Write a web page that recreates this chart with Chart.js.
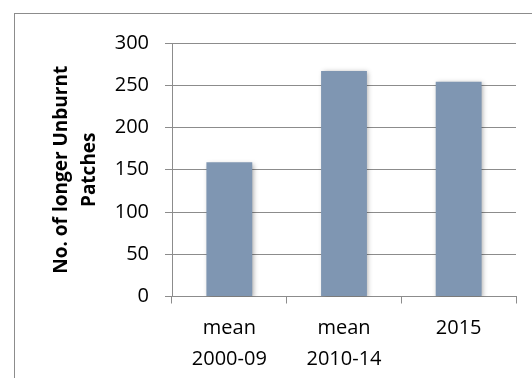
<!DOCTYPE html>
<html><head><meta charset="utf-8">
<script src="https://cdn.jsdelivr.net/npm/chart.js@4/dist/chart.umd.min.js"></script>
<style>html,body{margin:0;padding:0;background:#fff}#w{width:532px;height:378px}</style>
</head><body><div id="w"><canvas id="c" width="532" height="378"></canvas></div>
<script>
const categories = [['mean','2000-09'],['mean','2010-14'],['2015']];
const values = [159, 267, 254];
const yTicks = [0, 50, 100, 150, 200, 250, 300];
const yTitle = ['No. of longer Unburnt','Patches'];

const borderPlugin = {
  id: 'outerBorder',
  beforeDraw(chart) {
    const ctx = chart.ctx;
    ctx.save();
    ctx.strokeStyle = '#8c8c8c';
    ctx.lineWidth = 1;
    ctx.strokeRect(14.5, 13.5, 700, 700);
    ctx.restore();
  }
};
const shadowPlugin = {
  id: 'barShadow',
  beforeDatasetDraw(chart) {
    const ctx = chart.ctx;
    ctx.save();
    ctx.shadowColor = 'rgba(0,0,0,0.35)';
    ctx.shadowBlur = 5;
    ctx.shadowOffsetX = 1.5;
    ctx.shadowOffsetY = 1.5;
  },
  afterDatasetDraw(chart) { chart.ctx.restore(); }
};

new Chart(document.getElementById('c'), {
  type: 'bar',
  data: { labels: categories, datasets: [{ data: values, backgroundColor: '#7f96b2', categoryPercentage: 1, barPercentage: 0.4 }] },
  options: {
    responsive: false, animation: false,
    layout: { padding: { top: 43, right: 16, left: 0, bottom: 0 } },
    plugins: { legend: { display: false }, tooltip: { enabled: false } },
    scales: {
      x: {
        afterFit(s) { s.height = 81.5; },
        grid: { drawOnChartArea: false, color: '#8c8c8c', tickLength: 7, offset: true },
        border: { color: '#8c8c8c' },
        ticks: { color: '#000', font: { family: 'Open Sans', size: 20, lineHeight: 1.55 }, padding: 9, maxRotation: 0, autoSkip: false }
      },
      y: {
        min: 0, max: 300,
        afterFit(s) { s.width = 172; },
        afterBuildTicks(s) { s.ticks = yTicks.map(v => ({ value: v })); },
        grid: { color: '#8c8c8c', tickLength: 7 },
        border: { color: '#8c8c8c' },
        ticks: { color: '#000', font: { family: 'Open Sans', size: 20 }, padding: 16 },
        title: { display: true, text: yTitle, color: '#000', font: { family: 'Open Sans', size: 19, weight: 'bold', lineHeight: 1.45 }, padding: { top: 48, bottom: 0 } }
      }
    }
  },
  plugins: [borderPlugin, shadowPlugin]
});
</script></body></html>
